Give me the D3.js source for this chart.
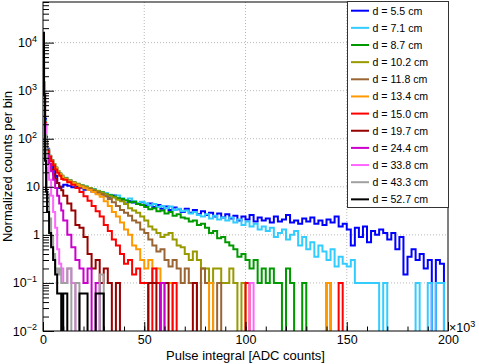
<!DOCTYPE html>
<html>
<head>
<meta charset="utf-8">
<script src="https://cdn.jsdelivr.net/npm/d3@7"></script>
<style>
body { margin: 0; background: #fff; }
text { font-family: "Liberation Sans", Arial, Helvetica, sans-serif; fill: #000; }
</style>
</head>
<body>
<div id="chart-area"></div>
<script>
const margin = { left: 43, top: 2, right: 31, bottom: 33 };
const chartSize = { width: 479, height: 364 };
const width = chartSize.width - (margin.left + margin.right);
const height = chartSize.height - (margin.top + margin.bottom);

// bin edges in units of 10^3 ADC counts: fine bins near zero, 2k bins after
const fineEdges = [0, 0.5, 1, 1.5, 2, 3, 4, 5, 6, 7, 8, 9, 10];
const binEdges = fineEdges.concat(d3.range(12, 201, 2));

const xTicks = [0, 50, 100, 150, 200];
const yTickExp = [-2, -1, 0, 1, 2, 3, 4];

const distances = ["5.5", "7.1", "8.7", "10.2", "11.8", "13.4", "15.0", "19.7", "24.4", "33.8", "43.3", "52.7"];
const colors = ["#0000ff", "#33ccff", "#009900", "#999900", "#996633", "#ff9900",
    "#ff0000", "#990000", "#cc00cc", "#ff66ff", "#a0a0a0", "#000000"];

// normalized counts per bin, one row per 20k (first row = 0..10k fine bins)
const d55 = [7000, 1100, 260, 110, 62, 44, 34, 24, 17, 12, 9.5, 10,
    11, 10.5, 9.8, 10.2, 9.6, 8.7, 9.0, 7.9, 7.6, 7.0,
    6.9, 6.2, 6.6, 5.7, 5.2, 4.5, 5.0, 4.7, 4.4, 4.8,
    4.1, 4.5, 3.8, 4.2, 3.5, 3.9, 3.3, 3.7, 3.4, 3.0,
    3.5, 2.9, 3.3, 2.7, 3.1, 2.6, 2.9, 2.4, 2.8, 2.3,
    2.7, 2.2, 2.5, 2.0, 2.4, 2.1, 2.6, 1.9, 2.3, 2.0,
    2.2, 1.8, 2.4, 1.9, 2.1, 2.6, 1.8, 2.0, 1.7, 2.2,
    1.9, 2.3, 1.7, 2.0, 1.6, 2.1, 1.8, 2.4, 1.5, 1.7,
    1.3, 0.6, 1.4, 0.9, 1.5, 0.7, 1.2, 1.0, 1.3, 1.1,
    0.8, 1.1, 0.5, 0.9, 0.15, 0.35, 0.5, 0.3, 0.4, 0.2,
    0.3, 0, 0.3, 0.25, 0];
const d71 = [6000, 1000, 240, 100, 60, 45, 36, 30, 25, 21, 19, 17,
    15.5, 13.5, 12.5, 11.5, 10.8, 10, 9.5, 8.9, 8.3, 7.6,
    7.4, 6.8, 6.2, 6.6, 5.8, 5.4, 5.7, 5.0, 4.6, 4.9,
    4.5, 4.1, 4.4, 3.8, 4.0, 3.6, 3.9, 3.3, 3.5, 3.1,
    3.2, 2.8, 3.0, 2.6, 2.4, 2.7, 2.2, 2.5, 2.1, 2.3,
    2.0, 2.3, 1.8, 2.1, 1.6, 1.9, 1.5, 1.7, 1.3, 1.5,
    1.2, 1.4, 0.9, 1.1, 1.3, 0.8, 1.0, 1.2, 0.6, 0.9,
    0.5, 0.7, 0.35, 0.6, 0.45, 0.3, 0.5, 0.22, 0.35, 0.25,
    0.22, 0.3, 0.1, 0.1, 0.1, 0.1, 0.1, 0.1, 0, 0.1,
    0, 0, 0, 0, 0, 0, 0, 0.1, 0, 0,
    0.1, 0, 0.1, 0.1, 0];
const d87 = [5000, 900, 220, 95, 58, 44, 36, 30, 25, 21, 19, 17,
    15, 13.5, 12.3, 11.6, 10.6, 10.1, 9.3, 8.8, 8.1, 7.7,
    7.1, 6.7, 6.3, 5.8, 5.6, 5.2, 4.8, 4.9, 4.4, 4.2,
    3.8, 3.4, 3.6, 3.1, 3.2, 2.8, 3.0, 2.5, 2.7, 2.3,
    2.2, 1.9, 2.0, 1.6, 1.7, 1.4, 1.1, 1.2, 0.85, 0.9,
    0.7, 0.6, 0.5, 0.35, 0.4, 0.3, 0.2, 0.3, 0.1, 0.2,
    0.1, 0.2, 0.1, 0.1, 0, 0.2, 0.1, 0, 0, 0.1,
    0, 0, 0, 0, 0, 0.1];
const d102 = [5000, 900, 220, 95, 58, 44, 36, 30, 25, 21, 18.5, 16.5,
    15, 13.5, 12.4, 11.3, 10.7, 9.9, 9.4, 8.6, 8.2, 7.5,
    7.0, 6.4, 6.0, 5.4, 5.0, 4.4, 3.6, 3.2, 2.9, 2.4,
    2.0, 1.5, 1.3, 1.1, 0.9, 1.0, 1.1, 0.8, 0.6, 0.55,
    0.4, 0.3, 0.45, 0.3, 0.2, 0.2, 0.1, 0.2, 0.2, 0.1,
    0.1, 0.2, 0.1, 0, 0.1];
const d118 = [5000, 900, 220, 95, 58, 44, 36, 30, 25, 21, 18.5, 16.5,
    14.8, 13.3, 12.1, 11.2, 10.4, 9.6, 9.0, 8.3, 7.6, 7.0,
    6.4, 5.6, 4.8, 4.0, 3.3, 2.9, 2.5, 2.0, 1.8, 1.3,
    1.1, 0.8, 0.6, 0.45, 0.5, 0.3, 0.22, 0.3, 0.2, 0.1,
    0.2, 0.1, 0.1, 0, 0.2, 0.1, 0.1, 0, 0.1, 0];
const d134 = [4500, 850, 210, 92, 57, 43, 35, 29, 24.5, 21, 18.5, 16.5,
    14.5, 13, 12, 11, 10.2, 9.3, 8.6, 7.8, 7.0, 6.2,
    5.0, 4.0, 3.0, 2.4, 1.8, 1.3, 1.0, 0.6, 0.5, 0.3,
    0.2, 0.3, 0.1, 0.2, 0, 0.1, 0.1, 0, 0, 0,
    0, 0, 0, 0, 0, 0, 0.1, 0, 0, 0,
    0, 0, 0, 0, 0, 0, 0, 0, 0, 0,
    0, 0, 0, 0, 0, 0, 0, 0, 0, 0,
    0, 0, 0, 0, 0, 0.1];
const d150 = [4500, 850, 210, 92, 56, 42, 34, 28, 23, 19.5, 17, 14.5,
    14, 12.5, 11, 9.5, 7.8, 6.4, 5.1, 4.0, 3.1, 2.4,
    1.6, 1.2, 0.8, 0.6, 0.4, 0.25, 0.3, 0.15, 0.2, 0.1,
    0.1, 0, 0.2, 0.1, 0, 0, 0, 0.1, 0, 0,
    0, 0, 0, 0, 0, 0, 0, 0, 0, 0,
    0, 0, 0, 0, 0, 0.1, 0, 0, 0, 0,
    0, 0, 0, 0, 0, 0, 0, 0, 0, 0,
    0, 0, 0, 0, 0, 0, 0, 0, 0.1];
const d197 = [5000, 900, 200, 80, 42, 30, 23, 18, 14.5, 12, 10, 8.5,
    6.5, 4.5, 3.2, 1.6, 1.4, 0.9, 0.4, 0.2, 0.3, 0.1,
    0.2, 0.1, 0, 0.1, 0, 0, 0, 0, 0, 0,
    0, 0.1, 0.1, 0, 0.1, 0.1, 0, 0, 0, 0,
    0, 0, 0.1];
const d244 = [6000, 1000, 200, 80, 45, 30, 21, 14, 9.5, 6.5, 4.5, 3.2,
    2.0, 1.0, 0.55, 0.3, 0.2, 0.1, 0.2, 0, 0.1, 0,
    0, 0, 0, 0, 0, 0, 0, 0, 0, 0,
    0, 0, 0, 0, 0.1];
const d338 = [8000, 1200, 200, 60, 28, 14, 6.5, 3.0, 1.4, 0.5, 0.25, 0.2,
    0.1, 0.2, 0.1, 0, 0, 0, 0, 0, 0, 0,
    0, 0, 0, 0, 0, 0, 0, 0, 0, 0,
    0, 0, 0, 0, 0, 0, 0, 0, 0, 0,
    0, 0, 0, 0, 0, 0, 0, 0, 0, 0,
    0, 0, 0, 0, 0, 0, 0.1];
const d433 = [12000, 1500, 120, 25, 7, 2.2, 0.9, 0.4, 0.2, 0.15, 0.2, 0.1,
    0.1, 0.2, 0, 0.1, 0, 0, 0, 0, 0, 0.15];
const d527 = [16000, 800, 35, 8, 3, 1.1, 0.55, 0.3, 0.15, 0.06, 0.06, 0,
    0.06, 0, 0, 0, 0.06, 0.06, 0, 0, 0.06, 0.06];

const seriesValues = [d55, d71, d87, d102, d118, d134, d150, d197, d244, d338, d433, d527];

const x = d3.scaleLinear().domain([0, 200]).range([0, width]);
const y = d3.scaleLog().domain([0.01, 7e4]).range([height, 0]);
const belowFloor = 0.004;

const initChart = function () {
    const svg = d3.select('#chart-area')
        .append("svg")
        .attr("width", chartSize.width)
        .attr("height", chartSize.height);

    svg.append("defs").append("clipPath").attr("id", "plot-clip")
        .append("rect").attr("width", width).attr("height", height);

    const g = svg.append("g")
        .attr("transform", `translate(${margin.left}, ${margin.top})`);

    // dotted grid
    g.selectAll(".xgrid").data(xTicks.slice(1, -1)).join("line")
        .attr("x1", d => x(d)).attr("x2", d => x(d))
        .attr("y1", 0).attr("y2", height)
        .attr("stroke", "#b8b8b8").attr("stroke-dasharray", "1,2");
    g.selectAll(".ygrid").data(yTickExp.slice(1)).join("line")
        .attr("x1", 0).attr("x2", width)
        .attr("y1", d => y(Math.pow(10, d))).attr("y2", d => y(Math.pow(10, d)))
        .attr("stroke", "#b8b8b8").attr("stroke-dasharray", "1,2");
    return { svg, g };
}

const drawHistos = function (g) {
    const line = d3.line()
        .curve(d3.curveStepAfter)
        .x(p => x(p.x))
        .y(p => y(p.v > 0 ? p.v : belowFloor));

    const plot = g.append("g").attr("clip-path", "url(#plot-clip)");
    seriesValues.forEach((vals, i) => {
        const nBins = binEdges.length - 1;
        const pts = [];
        for (let b = 0; b < nBins; b++) pts.push({ x: binEdges[b], v: vals[b] || 0 });
        pts.push({ x: binEdges[nBins], v: vals[nBins - 1] || 0 });
        plot.append("path")
            .attr("d", line(pts))
            .attr("fill", "none")
            .attr("stroke", colors[i])
            .attr("stroke-width", 2)
            .attr("stroke-linejoin", "miter");
    });
}

const drawAxes = function (svg, g) {
    const xMajor = d3.axisBottom(x).tickValues(xTicks).tickSize(-9).tickPadding(4)
        .tickFormat(d3.format("d"));
    const xMinor = d3.axisBottom(x).tickValues(d3.range(0, 201, 10)).tickSize(-4.5).tickFormat("");
    g.append("g").attr("transform", `translate(0, ${height})`).call(xMinor);
    const xa = g.append("g").attr("transform", `translate(0, ${height})`).call(xMajor);
    xa.selectAll("text").attr("font-size", 12.5).attr("font-family", "Liberation Sans, Arial");

    const yMinorVals = y.ticks().filter(v => Math.abs(Math.log10(v) - Math.round(Math.log10(v))) > 1e-6);
    const yMinor = d3.axisLeft(y).tickValues(yMinorVals).tickSize(-6).tickFormat("");
    const yMajor = d3.axisLeft(y).tickValues(yTickExp.map(e => Math.pow(10, e))).tickSize(-11).tickFormat("");
    g.append("g").call(yMinor);
    g.append("g").call(yMajor);
    g.selectAll(".domain").remove();
    g.selectAll(".tick line").attr("stroke", "#000");

    // y tick labels with superscripts
    yTickExp.forEach(e => {
        const t = g.append("text")
            .attr("y", y(Math.pow(10, e)) + 4.5)
            .attr("text-anchor", "end")
            .attr("font-size", 12.5);
        if (e === 0 || e === 1) {
            t.attr("x", -3).text(e === 0 ? "1" : "10");
        } else {
            t.attr("x", -6).text("10");
            t.append("tspan").attr("dy", -5.5).attr("font-size", 9)
                .text(e < 0 ? "\u2212" + (-e) : String(e));
        }
    });

    // frame
    g.append("rect").attr("width", width).attr("height", height)
        .attr("fill", "none").attr("stroke", "#000").attr("stroke-width", 1);

    // exponent marker for x axis
    const xm = g.append("text").attr("x", width + 1).attr("y", height + 1).attr("font-size", 12.5).text("\u00d710");
    xm.append("tspan").attr("dy", -5.5).attr("font-size", 9).text("3");

    svg.append("text")
        .attr("x", margin.left + width / 2).attr("y", 360)
        .attr("text-anchor", "middle").attr("font-size", 13)
        .text("Pulse integral [ADC counts]");
    svg.append("text")
        .attr("transform", "rotate(-90)")
        .attr("x", -(margin.top + height / 2)).attr("y", 11.5)
        .attr("text-anchor", "middle").attr("font-size", 13)
        .text("Normalized counts per bin");
}

const drawLegend = function (svg) {
    const lg = svg.append("g").attr("transform", "translate(347.5, 1.5)");
    lg.append("rect").attr("width", 101).attr("height", 206)
        .attr("fill", "#fff").attr("stroke", "#333").attr("stroke-width", 1);
    distances.forEach((d, i) => {
        const yy = 9.2 + 17.15 * i;
        lg.append("line").attr("x1", 3.5).attr("x2", 21.5).attr("y1", yy).attr("y2", yy)
            .attr("stroke", colors[i]).attr("stroke-width", 2);
        lg.append("text").attr("x", 25).attr("y", yy + 3.9).attr("font-size", 10.6)
            .text(`d = ${d} cm`);
    });
}

const main = () => {
    const { svg, g } = initChart();
    drawHistos(g);
    drawAxes(svg, g);
    drawLegend(svg);
}

window.onload = main;
</script>
</body>
</html>
